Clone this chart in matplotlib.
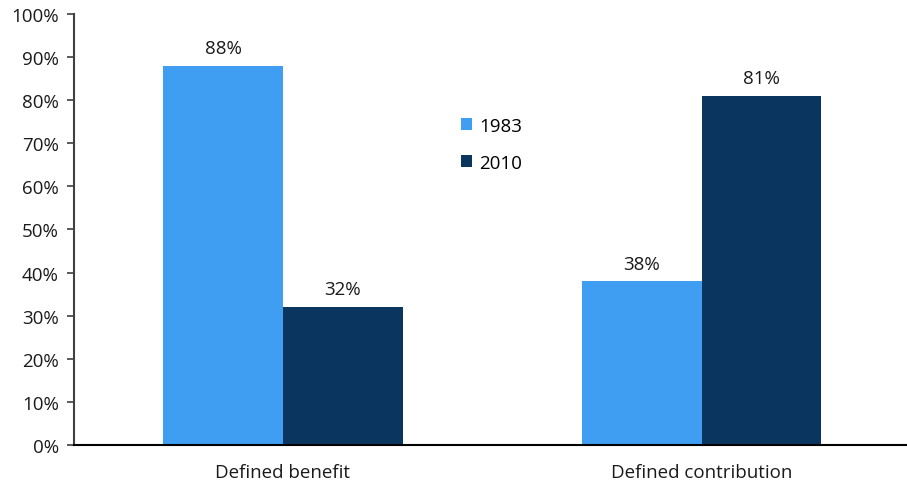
import numpy as np
import matplotlib.pyplot as plt

plt.rcParams['font.family'] = ['Open Sans', 'DejaVu Sans']

categorias = ["Defined benefit", "Defined contribution"]
anios = ["1983", "2010"]
valores_1983 = [88, 38]
valores_2010 = [32, 81]
colores = ["#409ef2", "#0a355f"]

fig = plt.figure(figsize=(9.07, 4.85), dpi=100)
ax = fig.add_axes([0.0816, 0.0804, 0.918, 0.889])

x = np.arange(len(categorias))
ancho = 0.286
b1 = ax.bar(x - ancho/2, valores_1983, ancho, color=colores[0], label=anios[0])
b2 = ax.bar(x + ancho/2, valores_2010, ancho, color=colores[1], label=anios[1])

for barras in (b1, b2):
    for b in barras:
        ax.text(b.get_x() + b.get_width()/2, b.get_height() + 2.0, f"{b.get_height():.0f}%",
                ha="center", va="bottom", fontsize=13.5, color="#1a1a1a")

ax.set_xlim(-0.499, 1.49)
ax.set_ylim(0, 100)
ax.set_yticks(np.arange(0, 101, 10))
ax.set_yticklabels([f"{v}%" for v in range(0, 101, 10)], fontsize=13.5, color="#1a1a1a")
ax.set_xticks(x)
ax.set_xticklabels(categorias, fontsize=13.5, color="#1a1a1a")
ax.tick_params(axis="x", length=0, pad=13)
ax.tick_params(axis="y", length=5, width=1.2, color="#404040", pad=6)

ax.spines["top"].set_visible(False)
ax.spines["right"].set_visible(False)
ax.spines["left"].set_color("#404040")
ax.spines["left"].set_linewidth(1.5)
ax.spines["bottom"].set_color("#000000")
ax.spines["bottom"].set_linewidth(1.5)

ax.legend(loc="upper left", bbox_to_anchor=(0.444, 0.80), frameon=False, fontsize=13.5,
          handlelength=0.6, handleheight=0.6, handletextpad=0.4, labelspacing=1.0)

fig.savefig("out.png", dpi=100)
